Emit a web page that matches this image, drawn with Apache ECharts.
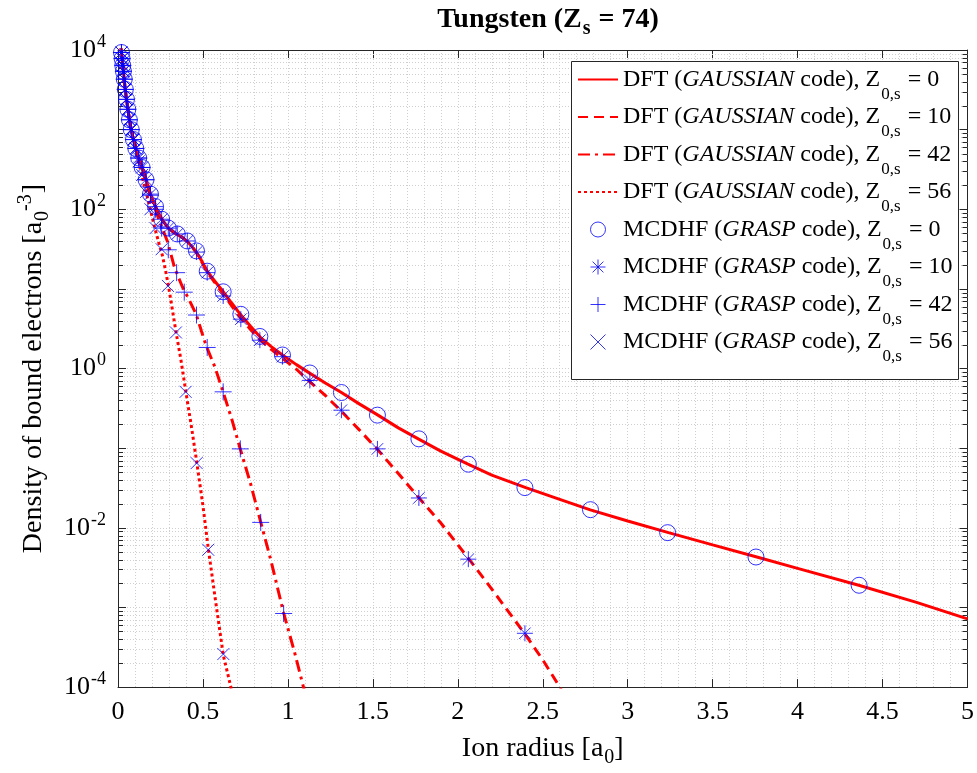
<!DOCTYPE html>
<html>
<head>
<meta charset="utf-8">
<script src="https://cdn.jsdelivr.net/npm/echarts@6/dist/echarts.min.js"></script>
<style>html,body{margin:0;padding:0;background:#fff;}#c{width:977px;height:773px;}</style>
</head>
<body>
<div id="c"></div>
<script>
// ---- data: [ion radius (a0), density (a0^-3)] ----
const dft0 = [[0.005,30000],[0.01,16000],[0.015,12000],[0.02,9500],[0.025,7500],[0.03,6000],[0.04,3600],[0.05,2400],[0.06,1700],[0.07,1200],[0.08,950],[0.09,760],[0.10,640],[0.11,530],[0.12,450],[0.135,370],[0.15,300],[0.165,235],[0.19,158],[0.215,115],[0.24,88],[0.26,74],[0.28,64],[0.30,57],[0.33,51],[0.35,48],[0.38,44],[0.41,39],[0.44,33],[0.46,29],[0.49,23],[0.525,16.7],[0.57,12.5],[0.62,9.2],[0.67,6.6],[0.72,4.8],[0.78,3.4],[0.835,2.5],[0.9,1.9],[0.97,1.47],[1.05,1.12],[1.13,0.87],[1.22,0.66],[1.315,0.5],[1.42,0.36],[1.53,0.26],[1.65,0.18],[1.77,0.13],[1.9,0.092],[2.06,0.063],[2.2,0.046],[2.4,0.032],[2.6,0.0228],[2.78,0.0168],[3.0,0.0122],[3.24,0.0087],[3.5,0.0061],[3.76,0.0043],[4.0,0.0031],[4.36,0.0019],[4.7,0.00116],[5.0,0.00072]];
const dft10 = [[0.005,30000],[0.01,16000],[0.015,12000],[0.02,9500],[0.025,7500],[0.03,6000],[0.04,3600],[0.05,2400],[0.06,1700],[0.07,1200],[0.08,950],[0.09,760],[0.10,640],[0.11,530],[0.12,450],[0.135,370],[0.15,300],[0.165,235],[0.19,158],[0.215,115],[0.24,88],[0.26,74],[0.28,64],[0.30,57],[0.33,51],[0.35,48],[0.38,44],[0.41,39],[0.44,33],[0.46,29],[0.49,22.5],[0.525,16.2],[0.57,12],[0.62,8.6],[0.67,6.1],[0.72,4.35],[0.78,3.1],[0.835,2.3],[0.9,1.75],[0.97,1.33],[1.05,0.98],[1.13,0.68],[1.22,0.46],[1.315,0.29],[1.42,0.17],[1.53,0.095],[1.65,0.048],[1.77,0.024],[1.9,0.0115],[2.06,0.0042],[2.2,0.0017],[2.4,0.00045],[2.5,0.00022],[2.6,0.0001],[2.65,0.000065]];
const dft42 = [[0.005,30000],[0.01,16000],[0.015,12000],[0.02,9500],[0.025,7500],[0.03,6000],[0.04,3600],[0.05,2400],[0.06,1700],[0.07,1200],[0.08,950],[0.09,760],[0.10,640],[0.11,530],[0.12,450],[0.135,370],[0.15,300],[0.165,235],[0.19,148],[0.215,105],[0.24,75],[0.26,58],[0.29,40],[0.31,28],[0.33,19.5],[0.35,15],[0.38,10.5],[0.42,7.2],[0.46,4.8],[0.49,3.0],[0.52,1.9],[0.57,1.05],[0.62,0.5],[0.67,0.23],[0.72,0.097],[0.78,0.036],[0.84,0.0118],[0.9,0.0039],[0.975,0.00085],[1.04,0.00027],[1.1,0.000085]];
const dft56 = [[0.005,30000],[0.01,16000],[0.015,12000],[0.02,9500],[0.025,7500],[0.03,6000],[0.04,3600],[0.05,2400],[0.06,1700],[0.07,1200],[0.08,950],[0.09,760],[0.10,640],[0.11,500],[0.12,400],[0.135,300],[0.15,220],[0.17,150],[0.19,100],[0.215,60],[0.24,38],[0.26,27],[0.28,17],[0.30,10],[0.32,5.5],[0.34,3.0],[0.37,1.3],[0.40,0.5],[0.43,0.2],[0.46,0.075],[0.50,0.019],[0.53,0.0058],[0.57,0.0014],[0.62,0.00025],[0.66,0.00011],[0.68,0.00007]];

const mc0 = [[0.017,11000],[0.0205,9300],[0.024,7800],[0.028,6400],[0.032,5400],[0.037,4300],[0.043,3200],[0.05,2400],[0.058,1800],[0.067,1330],[0.078,1000],[0.091,750],[0.105,580],[0.122,440],[0.142,335],[0.165,235],[0.191,155],[0.221,108],[0.257,75],[0.296,58],[0.349,49],[0.408,40],[0.462,30],[0.525,16.7],[0.619,9.2],[0.723,4.8],[0.835,2.53],[0.968,1.48],[1.129,0.88],[1.315,0.5],[1.527,0.26],[1.771,0.131],[2.062,0.063],[2.395,0.032],[2.781,0.0169],[3.235,0.0087],[3.755,0.0043],[4.362,0.0019]];
const mc10 = [[0.017,11000],[0.0205,9300],[0.024,7800],[0.028,6400],[0.032,5400],[0.037,4300],[0.043,3200],[0.05,2400],[0.058,1800],[0.067,1330],[0.078,1000],[0.091,750],[0.105,580],[0.122,440],[0.142,335],[0.165,235],[0.191,155],[0.221,108],[0.257,75],[0.296,58],[0.349,49],[0.408,40],[0.462,29],[0.525,16.0],[0.619,8.15],[0.723,4.17],[0.835,2.27],[0.968,1.41],[1.129,0.71],[1.315,0.30],[1.527,0.098],[1.771,0.0237],[2.062,0.00404],[2.395,0.000474]];
const mc42 = [[0.017,11000],[0.0205,9300],[0.024,7800],[0.028,6400],[0.032,5400],[0.037,4300],[0.043,3200],[0.05,2400],[0.058,1800],[0.067,1330],[0.078,1000],[0.091,750],[0.105,580],[0.122,440],[0.142,335],[0.165,235],[0.191,150],[0.221,100],[0.257,58],[0.296,31],[0.345,16],[0.39,9.1],[0.462,4.7],[0.525,1.84],[0.619,0.51],[0.72,0.098],[0.84,0.0117],[0.975,0.00084]];
const mc56 = [[0.017,11000],[0.0205,9300],[0.024,7800],[0.028,6400],[0.032,5400],[0.037,4300],[0.043,3200],[0.05,2400],[0.058,1800],[0.067,1330],[0.078,1000],[0.091,750],[0.105,580],[0.122,400],[0.142,270],[0.165,165],[0.191,100],[0.221,58],[0.257,31.5],[0.294,10.9],[0.341,2.84],[0.398,0.51],[0.463,0.065],[0.531,0.0053],[0.62,0.00026]];

// axis decoration: log minor grid (2..9 x each decade)
const decades = [-4,-3,-2,-1,0,1,2,3];
const minorMult = [2,3,4,5,6,7,8,9];
const yMinor = [];
decades.forEach(e => minorMult.forEach(m => yMinor.push([0, m * Math.pow(10, e)])));

const FONT = "'Liberation Serif','Times New Roman',serif";
const RED = '#ff0000', BLUE = '#0000ff', AX = '#262626', GRID = '#cfcfcf';

function legendRich(prefix, code, z) {
  return '{n|' + prefix + ' (}{i|' + code + '}{n| code), Z}{s|0,s}{n| = ' + z + '}';
}
const legendNames = {
  'DFT0': legendRich('DFT', 'GAUSSIAN', 0),
  'DFT10': legendRich('DFT', 'GAUSSIAN', 10),
  'DFT42': legendRich('DFT', 'GAUSSIAN', 42),
  'DFT56': legendRich('DFT', 'GAUSSIAN', 56),
  'MC0': legendRich('MCDHF', 'GRASP', 0),
  'MC10': legendRich('MCDHF', 'GRASP', 10),
  'MC42': legendRich('MCDHF', 'GRASP', 42),
  'MC56': legendRich('MCDHF', 'GRASP', 56)
};

const STAR = 'path://M0,-1L0,1M-1,0L1,0M-0.72,-0.72L0.72,0.72M-0.72,0.72L0.72,-0.72';
const PLUS = 'path://M0,-1L0,1M-1,0L1,0';
const CROSS = 'path://M-1,-1L1,1M-1,1L1,-1';

function lineSeries(name, data, type) {
  return { name, type: 'line', data, showSymbol: false, symbol: 'none', z: 3,
    lineStyle: { color: RED, width: 3, type }, itemStyle: { color: RED },
    emphasis: { disabled: true }, silent: true, animation: false };
}
function scatterSeries(name, data, symbol, size) {
  return { name, type: 'scatter', data, symbol, symbolSize: size, z: 4,
    itemStyle: { color: 'rgba(0,0,0,0)', borderColor: BLUE, borderWidth: 1 },
    emphasis: { disabled: true }, silent: true, animation: false };
}

const richLegend = {
  n: { fontFamily: FONT, fontSize: 24, color: '#000', lineHeight: 26 },
  i: { fontFamily: FONT, fontSize: 24, color: '#000', fontStyle: 'italic', lineHeight: 26 },
  s: { fontFamily: FONT, fontSize: 17, color: '#000', lineHeight: 18, padding: [30, 1, 0, 1] }
};
const hiddenDot = { opacity: 0, color: 'rgba(0,0,0,0)', borderWidth: 0 };
const markerIcon = { color: 'rgba(0,0,0,0)', borderColor: BLUE, borderWidth: 1 };

const chart = echarts.init(document.getElementById('c'), null, { renderer: 'canvas' });
const option = {
  animation: false,
  backgroundColor: '#ffffff',
  textStyle: { fontFamily: FONT },
  title: {
    text: '{b|Tungsten (Z}{s|s}{b| = 74)}',
    left: 543, top: 0, textAlign: 'center',
    textStyle: { rich: {
      b: { fontFamily: FONT, fontWeight: 'bold', fontSize: 28, color: '#000', lineHeight: 30 },
      s: { fontFamily: FONT, fontWeight: 'bold', fontSize: 20, color: '#000', lineHeight: 20, padding: [18, 1, 0, 1] }
    } }
  },
  grid: { left: 118, right: 9, top: 50, bottom: 84, containLabel: false },
  graphic: [{
    type: 'rect', z: 5, silent: true,
    shape: { x: 571.5, y: 61.5, width: 387, height: 318 },
    style: { fill: '#ffffff', stroke: AX, lineWidth: 1 }
  }],
  legend: {
    show: true, orient: 'vertical', left: 577, top: 56, padding: 0, z: 6,
    itemWidth: 40, itemHeight: 15, itemGap: -9.5,
    data: [
      { name: 'DFT0', itemStyle: hiddenDot }, { name: 'DFT10', itemStyle: hiddenDot },
      { name: 'DFT42', itemStyle: hiddenDot }, { name: 'DFT56', itemStyle: hiddenDot },
      { name: 'MC0', icon: 'circle', itemStyle: markerIcon },
      { name: 'MC10', icon: STAR, itemStyle: markerIcon },
      { name: 'MC42', icon: PLUS, itemStyle: markerIcon },
      { name: 'MC56', icon: CROSS, itemStyle: markerIcon }
    ],
    formatter: n => legendNames[n],
    textStyle: { rich: richLegend },
    selectedMode: false
  },
  xAxis: [{
    type: 'value', min: 0, max: 5, interval: 0.5, position: 'bottom',
    name: '{n|Ion radius [a}{s|0}{n|]}', nameLocation: 'middle', nameGap: 37,
    nameTextStyle: { rich: {
      n: { fontFamily: FONT, fontSize: 28, color: '#000', lineHeight: 30 },
      s: { fontFamily: FONT, fontSize: 20, color: '#000', lineHeight: 20, padding: [18, 0, 0, 1] }
    } },
    axisLine: { show: true, onZero: false, lineStyle: { color: AX, width: 1 } },
    axisTick: { show: true, inside: true, length: 8, lineStyle: { color: AX } },
    axisLabel: { fontFamily: FONT, fontSize: 26, color: '#000', margin: 12,
      formatter: v => String(v) },
    splitLine: { show: true, lineStyle: { color: GRID, type: [1, 2], width: 1 } },
    minorTick: { show: false, splitNumber: 5 },
    minorSplitLine: { show: true, lineStyle: { color: GRID, type: [1, 2], width: 1 } }
  }, {
    type: 'value', min: 0, max: 5, interval: 0.5, position: 'top',
    axisLine: { show: true, onZero: false, lineStyle: { color: AX, width: 1 } },
    axisTick: { show: true, inside: true, length: 8, lineStyle: { color: AX } },
    axisLabel: { show: false }, splitLine: { show: false }
  }],
  yAxis: [{
    type: 'log', logBase: 10, min: 1e-4, max: 1e4, splitNumber: 8, position: 'left',
    name: '{n|Density of bound electrons [a}{s|0}{p|-3}{n|]}', nameLocation: 'middle', nameRotate: 90, nameGap: 64,
    nameTextStyle: { rich: {
      n: { fontFamily: FONT, fontSize: 28, color: '#000', lineHeight: 30 },
      s: { fontFamily: FONT, fontSize: 20, color: '#000', lineHeight: 20, padding: [18, 0, 0, 1] },
      p: { fontFamily: FONT, fontSize: 20, color: '#000', lineHeight: 20, padding: [0, 1, 16, 0] }
    } },
    axisLine: { show: true, onZero: false, lineStyle: { color: AX, width: 1 } },
    axisTick: { show: true, inside: true, length: 8, lineStyle: { color: AX } },
    axisLabel: {
      margin: 12, color: '#000',
      formatter: v => { const e = Math.round(Math.log10(v)); return (e % 2 === 0) ? '{b|10}{p|' + e + '}' : ''; },
      rich: {
        b: { fontFamily: FONT, fontSize: 26, color: '#000', lineHeight: 28 },
        p: { fontFamily: FONT, fontSize: 18, color: '#000', lineHeight: 18, padding: [0, 0, 16, 1] }
      }
    },
    splitLine: { show: true, lineStyle: { color: GRID, type: [1, 2], width: 1 } }
  }, {
    type: 'log', logBase: 10, min: 1e-4, max: 1e4, splitNumber: 8, position: 'right',
    axisLine: { show: true, onZero: false, lineStyle: { color: AX, width: 1 } },
    axisTick: { show: true, inside: true, length: 8, lineStyle: { color: AX } },
    axisLabel: { show: false }, splitLine: { show: false }
  }],
  series: [
    {
      name: 'yMinorGrid', type: 'custom', data: yMinor, z: 1, silent: true,
      encode: { x: 0, y: 1 }, clip: false,
      renderItem: (params, api) => {
        const cs = params.coordSys;
        const y = Math.round(api.coord([0, api.value(1)])[1]) + 0.5;
        return { type: 'group', children: [
          { type: 'line', shape: { x1: cs.x, y1: y, x2: cs.x + cs.width, y2: y }, style: { stroke: GRID, lineWidth: 1, lineDash: [1, 2] } },
          { type: 'line', shape: { x1: cs.x, y1: y, x2: cs.x + 5, y2: y }, style: { stroke: AX, lineWidth: 1 } },
          { type: 'line', shape: { x1: cs.x + cs.width - 5, y1: y, x2: cs.x + cs.width, y2: y }, style: { stroke: AX, lineWidth: 1 } }
        ] };
      }
    },
    lineSeries('DFT0', dft0, 'solid'),
    lineSeries('DFT10', dft10, [10, 6]),
    lineSeries('DFT42', dft42, [12, 5, 3, 5]),
    lineSeries('DFT56', dft56, [3, 3]),
    scatterSeries('MC0', mc0, 'circle', 16),
    scatterSeries('MC10', mc10, STAR, 16),
    scatterSeries('MC42', mc42, PLUS, 17),
    scatterSeries('MC56', mc56, CROSS, 12)
  ]
};
chart.setOption(option);
</script>
</body>
</html>
